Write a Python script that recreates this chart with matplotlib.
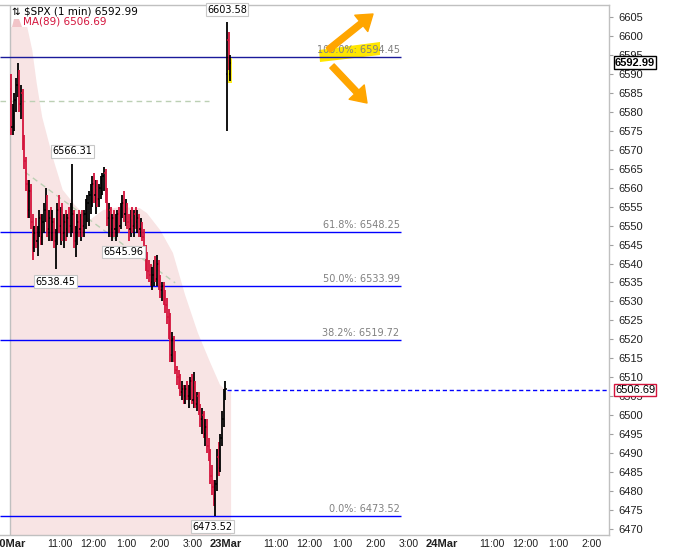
import matplotlib
matplotlib.use("Agg")
import matplotlib.pyplot as plt
from matplotlib.patches import Rectangle, Polygon, FancyArrowPatch
from matplotlib.transforms import Affine2D

# 20Mar, 3-minute bars (open, high, low, close)
day1_open = [6586, 6576, 6580, 6583, 6587, 6590, 6582, 6585, 6572, 6567,
             6561, 6554, 6559, 6551, 6544, 6548, 6546, 6549, 6552, 6547,
             6551, 6554, 6557, 6549, 6552, 6548, 6551, 6546, 6547, 6554,
             6550, 6553, 6548, 6551, 6549, 6552, 6550, 6549, 6553, 6546,
             6548, 6551, 6549, 6552, 6550, 6553, 6555, 6556, 6558, 6559,
             6561, 6558, 6560, 6557, 6560, 6562, 6563, 6564, 6558, 6552,
             6554, 6549, 6552, 6549, 6551, 6553, 6550, 6555, 6556, 6553,
             6555, 6551, 6549, 6552, 6550, 6553, 6551, 6552, 6549, 6550,
             6547, 6544, 6540, 6538, 6537, 6535, 6537, 6539, 6536, 6540,
             6535, 6533, 6534, 6531, 6529, 6526, 6522, 6516, 6520, 6515,
             6512, 6510, 6509, 6506, 6507, 6505, 6507, 6505, 6506, 6509,
             6504, 6508, 6503, 6505, 6501, 6499, 6500, 6495, 6497, 6492,
             6489, 6484, 6481, 6478, 6482, 6489, 6486, 6494, 6499, 6506]
day1_high = [6590, 6582, 6585, 6589, 6593, 6591, 6587, 6586, 6574, 6568,
             6562, 6562, 6561, 6553, 6550, 6552, 6550, 6554, 6553, 6553,
             6556, 6560, 6558, 6554, 6555, 6554, 6552, 6549, 6556, 6558,
             6555, 6556, 6553, 6554, 6553, 6555, 6556, 6566.31, 6554, 6550,
             6553, 6554, 6553, 6554, 6554, 6557, 6558, 6559, 6561, 6563,
             6564, 6562, 6562, 6561, 6563, 6564, 6565.5, 6565, 6560, 6556,
             6555, 6553, 6554, 6553, 6554, 6555, 6556, 6558, 6559, 6557,
             6556, 6553, 6554, 6555, 6554, 6555, 6554, 6553, 6552, 6551,
             6549, 6545, 6543, 6541, 6540, 6539, 6541, 6542, 6542.3, 6541,
             6537, 6535, 6535, 6533, 6531, 6528, 6527, 6522, 6521, 6517,
             6513, 6512, 6511, 6509, 6508, 6508, 6509, 6508, 6510, 6511,
             6511.4, 6509, 6506, 6506, 6503, 6502, 6501, 6499, 6499, 6494,
             6491, 6487, 6483, 6483, 6491, 6493, 6495, 6501, 6507, 6509]
day1_low = [6574, 6574, 6575, 6580, 6584, 6580, 6578, 6570, 6565, 6559,
            6552, 6552, 6549, 6541, 6543, 6544, 6542, 6547, 6545, 6545,
            6548, 6551, 6547, 6546, 6546, 6546, 6544, 6538.45, 6545, 6548,
            6545, 6546, 6544, 6546, 6547, 6548, 6547, 6548, 6544, 6541.7,
            6545, 6547, 6546, 6547, 6547, 6549, 6551, 6550, 6553, 6555,
            6556, 6553, 6555, 6555, 6557, 6558, 6559, 6556, 6550, 6547,
            6547, 6546, 6547, 6546, 6547, 6548, 6549, 6552, 6551, 6550,
            6549, 6545.96, 6547, 6548, 6547, 6549, 6548, 6547, 6547, 6546,
            6543, 6538, 6536, 6535, 6534, 6533, 6534, 6535, 6534, 6533,
            6531, 6530, 6529, 6527, 6524, 6520, 6514, 6514, 6514, 6511,
            6508, 6507, 6505, 6504, 6503, 6503, 6504, 6502, 6504, 6503,
            6502, 6502, 6501, 6500, 6497, 6495, 6494, 6492, 6490, 6488,
            6482, 6479, 6476, 6473.52, 6480, 6484, 6485, 6492, 6497, 6504]
day1_close = [6576, 6580, 6583, 6587, 6590, 6582, 6585, 6572, 6567, 6561,
              6554, 6559, 6551, 6544, 6548, 6546, 6549, 6552, 6547, 6551,
              6554, 6557, 6549, 6552, 6548, 6551, 6546, 6547, 6554, 6550,
              6553, 6548, 6551, 6549, 6552, 6550, 6554, 6553, 6546, 6548,
              6551, 6549, 6552, 6550, 6553, 6555, 6556, 6558, 6559, 6561,
              6558, 6560, 6557, 6560, 6562, 6563, 6564, 6558, 6552, 6554,
              6549, 6552, 6549, 6551, 6553, 6550, 6555, 6556, 6553, 6555,
              6551, 6549, 6552, 6550, 6553, 6551, 6552, 6549, 6550, 6547,
              6544, 6540, 6538, 6537, 6535, 6537, 6539, 6536, 6540, 6535,
              6533, 6534, 6531, 6529, 6526, 6522, 6516, 6520, 6515, 6512,
              6510, 6509, 6506, 6507, 6505, 6507, 6505, 6506, 6509, 6504,
              6508, 6503, 6505, 6501, 6499, 6500, 6495, 6497, 6492, 6489,
              6484, 6481, 6478, 6482, 6489, 6486, 6494, 6499, 6506, 6507]

# 23Mar opening bars
day2_open = [6590, 6599, 6590]
day2_high = [6603.58, 6601, 6595]
day2_low = [6575, 6591, 6588]
day2_close = [6599, 6593, 6592.99]

# MA(89) read at trading-minute positions (0 = 20Mar 9:30)
ma_t = [0, 16, 30, 40, 48, 58, 77, 95, 117, 144, 168, 198, 234, 247, 271,
        294, 316, 339, 361, 379, 393, 399]
ma_v = [6622, 6613, 6603, 6596.3, 6587.6, 6578.6, 6568, 6559.4, 6555.4,
        6551.5, 6554.1, 6554.9, 6554.6, 6553.3, 6548.8, 6542.8, 6531.7,
        6521.7, 6514, 6508, 6506.1, 6506.69]

fib_pct = ["100.0%", "61.8%", "50.0%", "38.2%", "0.0%"]
fib_val = [6594.45, 6548.25, 6533.99, 6519.72, 6473.52]

xtick_pos = [0, 90, 150, 210, 270, 330, 390, 480, 540, 600, 660, 720,
             780, 870, 930, 990, 1050]
xtick_lab = ["20Mar", "11:00", "12:00", "1:00", "2:00", "3:00", "23Mar",
             "11:00", "12:00", "1:00", "2:00", "3:00", "24Mar",
             "11:00", "12:00", "1:00", "2:00"]

RED = "#d4143c"
BLUE = "#0000ff"
PINK = "#f8e4e4"

W, H = 682, 549
fig = plt.figure(figsize=(W / 100, H / 100), dpi=100)
ax = fig.add_axes([0, 1 - 535 / H, 609 / W, 530 / H])
px = Affine2D().scale(1, -1).translate(0, H)   # top-left pixel coords

XMIN, XMAX = -18.2, 1081.2
YMIN, YMAX = 6468.43, 6608.16
ax.set_xlim(XMIN, XMAX)
ax.set_ylim(YMIN, YMAX)

# MA(89) area
ax.fill_between(ma_t, ma_v, YMIN, color=PINK, lw=0, zorder=1)
ax.add_patch(Rectangle((10, 5), 90, 22, transform=px, fc="white",
                       ec="none", zorder=1.5))

# session line, trend lines
ax.axvline(0, color="#c0c0c0", lw=1, zorder=1.6)
ax.hlines(6582.9, XMIN, 360, color="#bcd0b4", lw=1, ls=(0, (4, 3)), zorder=2)
ax.plot([27, 298], [6564.1, 6534.9], color="#bcd0b4", lw=1,
        ls=(0, (4, 3)), zorder=2)

# fib lines
fib_end = 705.6
for pct, val in zip(fib_pct, fib_val):
    col = "#1a1a9a" if pct == "100.0%" else BLUE
    ax.hlines(val, XMIN, fib_end, color=col, lw=1, zorder=3)
    ax.annotate(f"{pct}: {val:.2f}", xy=(fib_end, val), xytext=(-1, 1.5),
                textcoords="offset points", ha="right", va="bottom",
                fontsize=7, color="#808080", zorder=6)

# yellow highlighter over the 100% label
ax.add_patch(Polygon([(319, 50), (380, 42), (380, 55), (320, 62)],
                     transform=px, fc="#ffe600", ec="none", zorder=2.5))


def draw_bars(t0, o, h, l, c):
    for i in range(len(o)):
        t = t0 + 3 * i + 1.5
        col = RED if c[i] < o[i] else "black"
        ax.vlines(t, l[i], h[i], color=col, lw=1.3, zorder=4)
        ax.hlines(o[i], t - 2.2, t, color=col, lw=1.1, zorder=4)
        ax.hlines(c[i], t, t + 2.2, color=col, lw=1.1, zorder=4)


draw_bars(0, day1_open, day1_high, day1_low, day1_close)
draw_bars(390, day2_open, day2_high, day2_low, day2_close)
# yellow highlight behind the last bar
ax.add_patch(Rectangle((393.5, 6587.6), 8, 6.7, fc="#ffee22", ec="none",
                       zorder=3.5))

# MA last value line
ax.hlines(6506.69, 392, XMAX, color=BLUE, lw=1, ls=(0, (3, 2)), zorder=3)

# high / low labels
box = dict(boxstyle="square,pad=0.15", fc="white", ec="#c8c8c8", lw=0.8)
labels = [(3 * 37 + 1.5, day1_high[37], 9, 0),
          (3 * 27 + 1.5, day1_low[27], -9, 0),
          (3 * 71 + 1.5, day1_low[71], -8, -4),
          (3 * 123 + 1.5, day1_low[123], -8, -2),
          (391.5, day2_high[0], 9, 0)]
for t, v, dy, dx in labels:
    ax.annotate(f"{v:.2f}", xy=(t, v), xytext=(dx, dy),
                textcoords="offset points", ha="center", va="center",
                fontsize=7, color="black", bbox=box, zorder=7,
                annotation_clip=False)

# arrows
for tail, tip in [((328, 50), (373, 14)), ((332, 66), (367, 103))]:
    fig.add_artist(FancyArrowPatch(tail, tip, transform=px,
                                   arrowstyle="simple,head_length=0.9,head_width=1.25,tail_width=0.36",
                                   mutation_scale=12, color="#ffa500",
                                   shrinkA=0, shrinkB=0, zorder=8))

# legend text
ax.text(12, 11, "⇅ \\$SPX (1 min) 6592.99", transform=px, fontsize=7.5,
        va="center", ha="left", color="black", zorder=7)
ax.add_patch(Polygon([(12, 27), (14, 19), (19, 19), (22, 27)], transform=px,
                     fc="#f2c4c8", ec="none", zorder=7))
ax.text(23, 22, "MA(89) 6506.69", transform=px, fontsize=7.5,
        va="center", ha="left", color=RED, zorder=7)

# axes styling
ax.spines["left"].set_visible(False)
for s in ["top", "right", "bottom"]:
    ax.spines[s].set_color("#c0c0c0")
    ax.spines[s].set_linewidth(1)

ax.yaxis.tick_right()
yt = list(range(6470, 6606, 5))
ax.set_yticks(yt)
ax.set_yticklabels([str(v) for v in yt], fontsize=8, family="Liberation Sans",
                   color="#202020")
ax.tick_params(axis="y", length=3, color="#a0a0a0", pad=4)

ax.set_xticks(xtick_pos)
ax.set_xticklabels(xtick_lab, fontsize=7.5, family="Liberation Sans",
                   color="#202020")
for lab in ax.get_xticklabels():
    if "Mar" in lab.get_text():
        lab.set_fontweight("bold")
        lab.set_fontsize(8)
ax.tick_params(axis="x", length=0, pad=3)

ytr = ax.get_yaxis_transform()
ax.text(1.0 + 6 / 609, 6592.99, "6592.99", transform=ytr, fontsize=8,
        fontweight="bold", family="Liberation Sans", ha="left", va="center",
        bbox=dict(boxstyle="square,pad=0.1", fc="white", ec="black", lw=1),
        clip_on=False, zorder=10)
ax.text(1.0 + 6 / 609, 6506.69, "6506.69", transform=ytr, fontsize=8,
        family="Liberation Sans", ha="left", va="center",
        bbox=dict(boxstyle="square,pad=0.1", fc="white", ec=RED, lw=1),
        clip_on=False, zorder=10)

fig.savefig("out.png", dpi=100)
